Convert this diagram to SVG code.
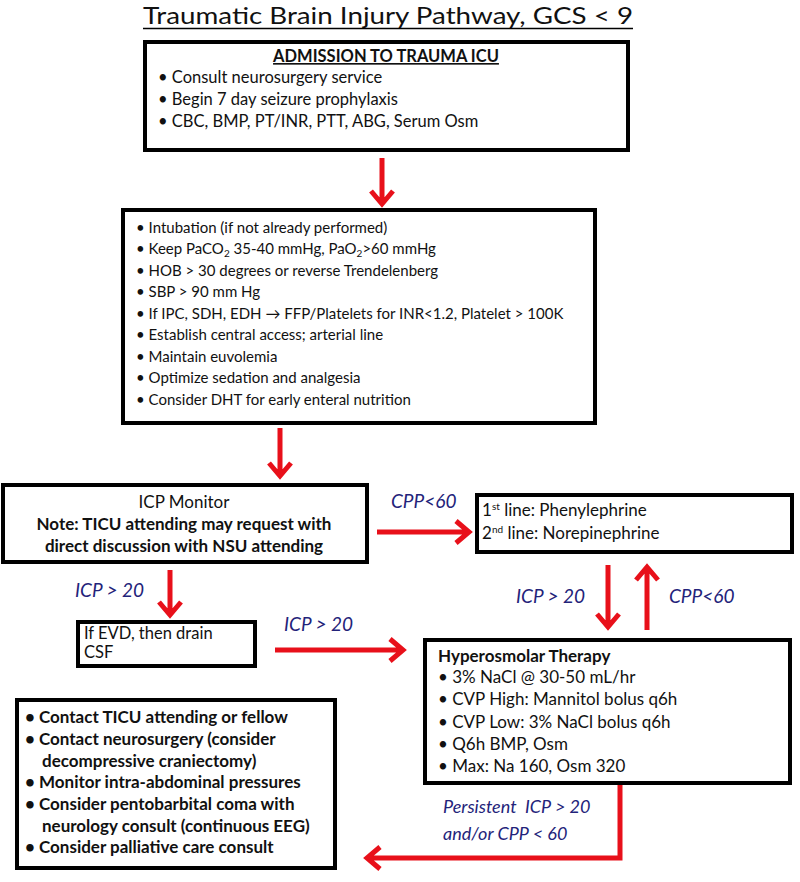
<svg xmlns="http://www.w3.org/2000/svg" width="800" height="882" viewBox="0 0 800 882">
<style>
text{font-family:Lato,"Liberation Sans",sans-serif;fill:#111}
.t{font-size:17px}
.s{font-size:15px}
.m{font-size:16.5px}
.b{font-weight:bold}
.lbl{font-size:19px;font-style:italic;fill:#23237a}
.box{fill:#fff;stroke:#000;stroke-width:4}
.ar{fill:none;stroke:#e8101a;stroke-width:5;stroke-linejoin:miter}
</style>
<rect width="800" height="882" fill="#fff"/>
<text x="388" y="24" text-anchor="middle" style="font-size:23px" textLength="490" lengthAdjust="spacingAndGlyphs">Traumatic Brain Injury Pathway, GCS &lt; 9</text>
<line x1="143" y1="28.5" x2="633" y2="28.5" stroke="#000" stroke-width="1.5"/>

<g id="admission">
<rect class="box" x="145" y="42" width="483" height="108"/>
<text class="m b" x="386" y="62" text-anchor="middle" text-decoration="underline">ADMISSION TO TRAUMA ICU</text>
<text class="m" x="158" y="83">• Consult neurosurgery service</text>
<text class="m" x="158" y="105">• Begin 7 day seizure prophylaxis</text>
<text class="m" x="158" y="127">• CBC, BMP, PT/INR, PTT, ABG, Serum Osm</text>
</g>

<g id="initial">
<rect class="box" x="123" y="210" width="472" height="213"/>
<text class="s" x="136" y="233">• Intubation (if not already performed)</text>
<text class="s" x="136" y="254">• Keep PaCO<tspan font-size="10" dy="3">2</tspan><tspan dy="-3"> 35-40 mmHg, PaO</tspan><tspan font-size="10" dy="3">2</tspan><tspan dy="-3">&gt;60 mmHg</tspan></text>
<text class="s" x="136" y="276">• HOB &gt; 30 degrees or reverse Trendelenberg</text>
<text class="s" x="136" y="297">• SBP &gt; 90 mm Hg</text>
<text class="s" x="136" y="319">• If IPC, SDH, EDH → FFP/Platelets for INR&lt;1.2, Platelet &gt; 100K</text>
<text class="s" x="136" y="340">• Establish central access; arterial line</text>
<text class="s" x="136" y="362">• Maintain euvolemia</text>
<text class="s" x="136" y="383">• Optimize sedation and analgesia</text>
<text class="s" x="136" y="405">• Consider DHT for early enteral nutrition</text>
</g>

<g id="icp-monitor">
<rect class="box" x="3" y="485" width="364" height="77"/>
<text class="t" x="184" y="508" text-anchor="middle">ICP Monitor</text>
<text class="t b" x="184" y="530" text-anchor="middle">Note: TICU attending may request with</text>
<text class="t b" x="184" y="552" text-anchor="middle">direct discussion with NSU attending</text>
</g>

<g id="pressors">
<rect class="box" x="477" y="495" width="315" height="57"/>
<text class="t" x="482" y="516">1<tspan font-size="10" dy="-6">st</tspan><tspan dy="6"> line: Phenylephrine</tspan></text>
<text class="t" x="482" y="539">2<tspan font-size="10" dy="-6">nd</tspan><tspan dy="6"> line: Norepinephrine</tspan></text>
</g>

<g id="evd">
<rect class="box" x="78" y="622" width="177" height="44"/>
<text class="m" x="84" y="639">If EVD, then drain</text>
<text class="m" x="84" y="658">CSF</text>
</g>

<g id="hyperosmolar">
<rect class="box" x="425" y="640" width="365" height="143"/>
<text class="t b" x="438" y="662">Hyperosmolar Therapy</text>
<text class="t" x="438" y="683">• 3% NaCl @ 30-50 mL/hr</text>
<text class="t" x="438" y="705">• CVP High: Mannitol bolus q6h</text>
<text class="t" x="438" y="728">• CVP Low: 3% NaCl bolus q6h</text>
<text class="t" x="438" y="750">• Q6h BMP, Osm</text>
<text class="t" x="438" y="772">• Max: Na 160, Osm 320</text>
</g>

<g id="escalation">
<rect class="box" x="17" y="700" width="318" height="168"/>
<text class="t b" x="25" y="723">• Contact TICU attending or fellow</text>
<text class="t b" x="25" y="745">• Contact neurosurgery (consider</text>
<text class="t b" x="42" y="767">decompressive craniectomy)</text>
<text class="t b" x="25" y="788">• Monitor intra-abdominal pressures</text>
<text class="t b" x="25" y="810">• Consider pentobarbital coma with</text>
<text class="t b" x="42" y="832">neurology consult (continuous EEG)</text>
<text class="t b" x="25" y="853">• Consider palliative care consult</text>
</g>

<g id="connectors">
<path class="ar" d="M382,158 V203 M371,191 L382,204 L393,191"/>
<path class="ar" d="M280,428 V475 M269,463 L280,476 L291,463"/>
<path class="ar" d="M377,532 H468 M456,521 L469,532 L456,543"/>
<path class="ar" d="M170,570 V614 M159,602 L170,615 L181,602"/>
<path class="ar" d="M275,650 H402 M390,639 L403,650 L390,661"/>
<path class="ar" d="M608,565 V626 M597,614 L608,627 L619,614"/>
<path class="ar" d="M647,630 V568 M636,580 L647,567 L658,580"/>
<path class="ar" d="M620,785 V858 H368 M380,847 L367,858 L380,869"/>
<text class="lbl" x="391" y="508">CPP&lt;60</text>
<text class="lbl" x="75" y="597">ICP &gt; 20</text>
<text class="lbl" x="284" y="631">ICP &gt; 20</text>
<text class="lbl" x="516" y="603">ICP &gt; 20</text>
<text class="lbl" x="669" y="603">CPP&lt;60</text>
<text class="lbl" x="443" y="813" style="font-size:18px">Persistent&#160; ICP &gt; 20</text>
<text class="lbl" x="443" y="840" style="font-size:18px">and/or CPP &lt; 60</text>
</g>
</svg>
